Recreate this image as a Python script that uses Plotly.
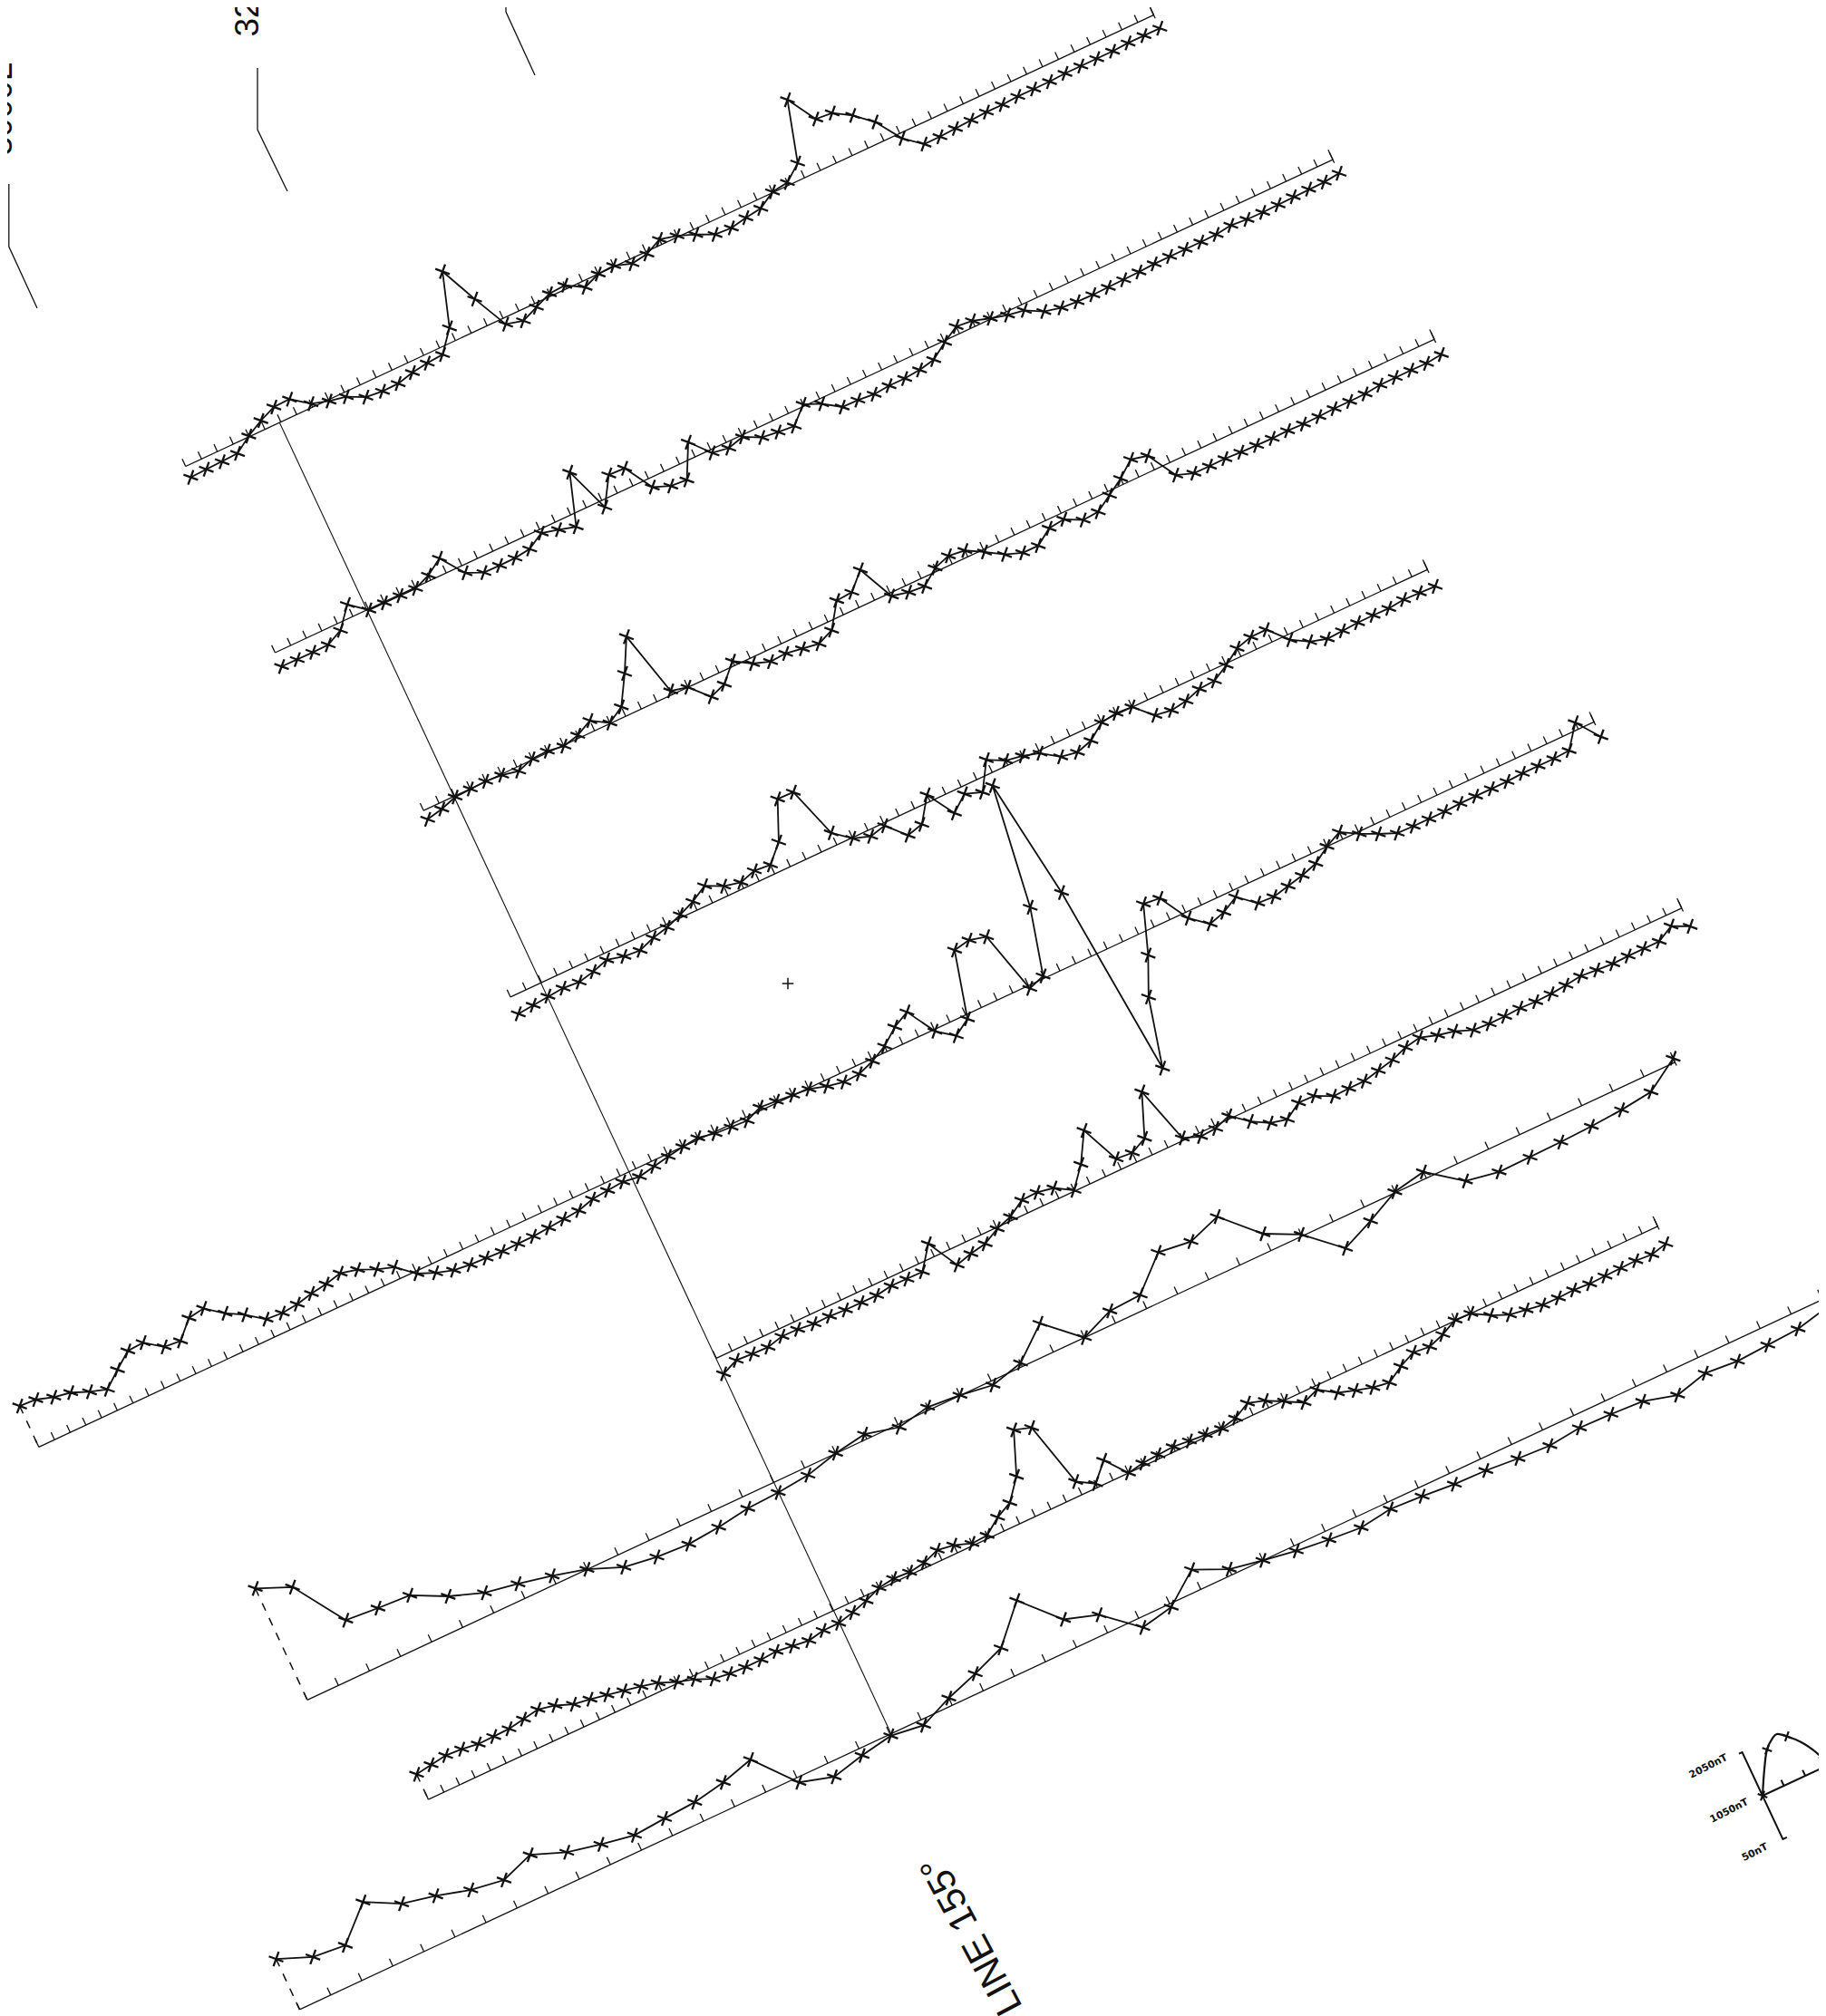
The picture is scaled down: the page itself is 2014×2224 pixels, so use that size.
import math
import plotly.graph_objects as go

# ---------------------------------------------------------------------------
# DATA: anomaly deflection at each station (plot units, + = above base line)
# ---------------------------------------------------------------------------
profile_1 = [-13.3, -12.5, -12.4, -11.2, 0.9, 10.7, 18.2, 18.8, 4.2, -1.6, -5.2, -14.8, -16.7, -16.3,
             -11.9, -9.4, -7.9, 15.5, 75.1, 32.6, -7.0, -11.9, -4.3, 3.1, 4.3, -7.2, 0.0, 1.2, -5.4,
             -2.7, 6.0, 1.5, -6.0, -14.9, -16.0, -12.5, -10.1, 0.9, 3.3, 18.0, 86.0, 53.6, 52, 40, 23,
             -6, -22, -22, -21, -20, -19, -19, -18, -18, -18, -17, -17, -17, -17, -16, -16, -16]
profile_2 = [-16.8, -17.2, -17.2, -16.9, -8.1, 14.5, -1.0, -1.1, -1.2, -1.2, 5.9, 17.8, -8.6, -17.2,
             -17.4, -17.2, -15.0, -4.4, -9.1, -14.5, 43.1, -8.1, 22.2, 21.5, -10.2, -17.8, -19.2, 17.9,
             -3.9, -6.9, -2.1, -11.7, -13.8, -15.5, 2.2, -5.8, -18.7, -19.1, -20.8, -19.2, -19.3, -17.7,
             -14.0, -1.8, 8.7, 6.8, 0.9, -3.8, -6.9, -17.2, -21.5, -22.9, -23.3, -23.1, -22.7, -22.0,
             -21.0, -20.7, -20.9, -20.9, -20.5, -18.2, -19.8, -20.1, -19.7, -18.7, -18.3, -18.5, -16.6]
profile_3 = [-10.7, -7.0, -1.2, -0.2, 0.3, -1.0, -4.9, 1.1, 1.7, -1.0, 3.4, 12.4, 0.7, 11.5, 43.4, 79.3,
             4.4, 0.0, -20.4, -13.8, 5.4, -6.4, -12.8, -11.7, -14.9, -17.6, -9.9, 17.4, 18.6, 37.0, -3.6,
             -7.9, -9.4, 4.1, 10.0, 7.7, -3.0, -14.8, -21.6, -21.7, -9.4, -7.2, -17.0, -15.8, -4.5, 7.0,
             21.4, 17.1, -15.2, -21.8, -22.0, -21.7, -22.7, -23.2, -23.5, -23.0, -23.7, -23.4, -22.6,
             -22.6, -22.3, -20.4, -19.9, -20.0, -20.4, -18.4]
profile_4 = [-20.4, -18.8, -16.6, -15.6, -17.0, -13.2, -7.7, -12.2, -13.8, -7.3, -3.4, 3.1, 10.5, 20.8,
             11.5, 7.2, 12.6, 11.0, 30.0, 73.5, 73.0, 14.7, -0.9, -7.2, -3.1, -23.6, -19.0, 7.9, -23.0,
             -8.4, -15.3, 15.5, 5.6, 2.6, -3.0, -16.3, -19.6, -14.2, -1.1, 1.5, 0.4, -18.7, -21.5, -18.9,
             -13.0, -12.0, -2.0, 10.0, 14.9, 15.1, -6.0, -17.2, -22.6, -21.6, -20.6, -20.4, -20.8, -18.9,
             -19.5, -20.4]
profile_5 = [49.9, 48.8, 42.9, 39.5, 31.5, 25.7, 40.6, 54.6, 55.7, 41.7, 40.0, 59.0, 61.8, 46.9, 36.1,
             21.9, 20.4, 22.3, 26.4, 29.0, 33.3, 28.8, 20.1, 13.9, -2.9, -10.8, -16.6, -18.8, -19.6,
             -20.5, -20.1, -19.9, -18.5, -16.6, -15.3, -10.2, -8.6, -7.1, -9.7, -6.0, -3.0, 0.0, 2.0,
             -1.8, -2.9, -4.0, 3.5, 1.9, 0.4, -1.1, -6.6, -10.4, -9.4, -2.9, 6.5, 20.9, 30.3, -2.0, -16.5,
             -4.8, 69.9, 73.2, 68.4, -3.4, 2.8, 77.5, 216.8, 77.7, -145.0, -67.4, -25.3, 28.1, 26.0,
             -7.1, -23.0, -17.8, -7.9, -24.4, -25.6, -21.5, -17.4, -11.8, 0.0, 8.6, -2.5, -11.4, -19.5,
             -20.0, -20, -20, -19, -19, -19, -19, -18, -18, -18, -17, 8, -18]
profile_6 = [-19.0, -11.4, -12.5, -13.1, -8.7, -9.1, -11.1, -10.8, -11.9, -11.9, -12.0, -9.2, -9.8, -9.7,
             15.6, -19.0, -14.1, -10.9, -1.5, 4.3, 15.6, 16.3, 12.8, 1.1, 23.8, 56.3, 13.0, 11.4, 20.2,
             67.9, 2.9, -4.1, -3.1, 3.4, -12.2, -23.1, -27.4, -16.0, -16.4, -25.7, -25.1, -25.0, -21.0,
             -17.0, -10.6, -7.3, -13.3, -17.2, -24.8, -25.9, -25.7, -24.6, -25.5, -24.8, -23.1, -20.8,
             -22.3, -23.5, -22.9, -22.6, -22.8, -13.0, -22.2]
profile_7 = [135.7, 119.7, 61.8, 58.8, 56.8, 37.9, 24.5, 17.9, 9.9, 0.2, -14.9, -20.1, -22.1, -19.0,
             -13.8, -12.2, -8.7, 0.3, 5.9, -3.3, 3.5, 0.4, -4.9, 4.4, 35.0, 0.0, 14.8, 16.6, 50.8, 46.4,
             59.0, 20.6, 2.1, -32.4, -16.7, 1.1, 7.7, -21.0, -27.6, -27.4, -26.5, -25.1, -22.7, -18.4, 4.8]
profile_8 = [30.7, 33.5, 35.9, 34.8, 32.2, 32.5, 33.1, 36.0, 39.0, 34.9, 27.5, 24.9, 21.4, 17.4, 14.0,
             9.6, 1.7, -3.8, -12.1, -14.6, -15.5, -15.4, -14.0, -16.3, -18.5, -15.0, -15.0, -10.8, -5.4,
             1.6, 4.0, 2.9, 5.5, 12.1, 9.4, 2.6, 3.6, 16.8, 25.7, 48.9, 96.6, 90.6, 16.2, 4.8, 24.3, 0.1,
             3.3, 4.5, 5.5, 3.7, 2.7, 1.1, 5.0, 14.6, 8.7, -0.9, -11.3, -4.4, -17.1, -23.0, -28.4, -31.2,
             -20.2, -12.1, -14.1, -7.9, 0.8, 0.0, -11.2, -19.3, -22.2, -25.1, -25.2, -24.4, -25.7, -25.1,
             -24.5, -24.1, -25.5, -21.2]
profile_9 = [61.5, 46.3, 42.9, 78.0, 58.2, 50.2, 39.8, 34.2, 47.2, 32.7, 24.7, 18.2, 20.9, 23.1, 29.6,
             39.7, -5.6, -16.6, -8.1, -1.9, -6.7, 8.8, 20.9, 34.6, 74.7, 34, 22, -11, -4, 24, 7, 0, -6,
             -10, -13, -8, -10, -13, -14, -17, -19, -15, -16, -18, -28, -19, -22, -20, -18, -10]

# sample anomaly drawn in the scale key (along-line, across-line)
key_curve_along = [0, 15, 26, 37, 43, 52, 64, 72, 78]
key_curve_across = [0, 27, 44, 53, 55, 48, 35, 22, 8.5]
key_curve_marked = [0, 2, 5, 8]
key_labels = ["2050nT", "1050nT", "50nT"]
line_labels = ["3000L", "3200L"]
tie_label = "LINE 155\u00b0"

profiles = [profile_1, profile_2, profile_3, profile_4, profile_5,
            profile_6, profile_7, profile_8, profile_9]

# ---------------------------------------------------------------------------
# LAYOUT GEOMETRY (page pixels): rotated stacked-profile frame
# ---------------------------------------------------------------------------
W, H = 2014, 2224
PAGE_OFFSET = 8          # browser body margin compensation
THETA = math.radians(25.0)
C, S = math.cos(THETA), math.sin(THETA)
ORIGIN = (309.2, 468.0)

# base line offset across the lines, first and last station along the line
PROFILE_GEOM = [
    dict(base=2, first=-114.3, last=1063.8, lead=False),
    dict(base=-226, first=-111.7, last=1175.4, lead=False),
    dict(base=-453, first=-36.9, last=1193.1, lead=False),
    dict(base=-680, first=-37.0, last=1078.9, lead=False),
    dict(base=-910, first=-718.3, last=1174.4, lead=True),
    dict(base=-1137, first=0.4, last=1175.2, lead=False),
    dict(base=-1288, first=-567.8, last=1096.7, lead=True),
    dict(base=-1444, first=-493.2, last=1002.8, lead=True),
    dict(base=-1594, first=-719.8, last=1133.2, lead=True),
]
TICK_LEN = 9
END_BAR = (-4, 12)
BLACK = "#111111"


def to_screen(u, v, origin=ORIGIN):
    return origin[0] + u * C - v * S, origin[1] - u * S - v * C


fig = go.Figure()

base_x, base_y, tick_x, tick_y, lead_x, lead_y = [], [], [], [], [], []
for vals, g in zip(profiles, PROFILE_GEOM):
    n = len(vals)
    step = (g["last"] - g["first"]) / (n - 1)
    stations = [g["first"] + i * step for i in range(n)]
    for u in (g["first"], g["last"]):
        x, y = to_screen(u, g["base"])
        base_x.append(x)
        base_y.append(y)
    base_x.append(None)
    base_y.append(None)
    for u in stations:
        for dv in (0, TICK_LEN):
            x, y = to_screen(u, g["base"] + dv)
            tick_x.append(x)
            tick_y.append(y)
        tick_x.append(None)
        tick_y.append(None)
    for dv in END_BAR:
        x, y = to_screen(g["last"], g["base"] + dv)
        tick_x.append(x)
        tick_y.append(y)
    tick_x.append(None)
    tick_y.append(None)
    if g["lead"]:
        for v in (g["base"] + vals[0], g["base"]):
            x, y = to_screen(g["first"], v)
            lead_x.append(x)
            lead_y.append(y)
        lead_x.append(None)
        lead_y.append(None)
    pts = [to_screen(u, g["base"] + d) for u, d in zip(stations, vals)]
    fig.add_trace(go.Scatter(
        x=[p[0] for p in pts], y=[p[1] for p in pts], mode="lines+markers",
        line=dict(color=BLACK, width=1.8),
        marker=dict(symbol="x-thin", size=12, angle=-25, color=BLACK,
                    line=dict(color=BLACK, width=2.3)),
        hoverinfo="skip"))

fig.add_trace(go.Scatter(x=base_x, y=base_y, mode="lines",
                         line=dict(color=BLACK, width=1.3), hoverinfo="skip"))
fig.add_trace(go.Scatter(x=tick_x, y=tick_y, mode="lines",
                         line=dict(color=BLACK, width=1.3), hoverinfo="skip"))
fig.add_trace(go.Scatter(x=lead_x, y=lead_y, mode="lines",
                         line=dict(color=BLACK, width=1.5, dash="dash"), hoverinfo="skip"))

# tie line across all profiles
tx, ty = zip(to_screen(0, PROFILE_GEOM[0]["base"]), to_screen(0, PROFILE_GEOM[-1]["base"]))
fig.add_trace(go.Scatter(x=list(tx), y=list(ty), mode="lines",
                         line=dict(color=BLACK, width=1.1), hoverinfo="skip"))

# line-label leaders at the top
LEADERS = [[(9.8, 203), (9.8, 272), (41, 340)],
           [(284, 75), (284, 143), (317, 211)],
           [(558, 0), (558, 13), (590, 83)]]
lx, ly = [], []
for path in LEADERS:
    for p in path:
        lx.append(p[0])
        ly.append(p[1])
    lx.append(None)
    ly.append(None)
fig.add_trace(go.Scatter(x=lx, y=ly, mode="lines", line=dict(color=BLACK, width=1.3),
                         hoverinfo="skip"))

# stray plotter mark
fig.add_trace(go.Scatter(x=[869], y=[1085], mode="markers",
                         marker=dict(symbol="cross-thin", size=9,
                                     line=dict(color=BLACK, width=1.5)),
                         hoverinfo="skip"))

# scale key (bottom right)
KEY_ORIGIN = (1944, 1981)
KEY_HALF = 53
KEY_TICKS = [26, 52]
kx, ky = [], []
for seg in ([(-4, KEY_HALF), (0, KEY_HALF), (0, -KEY_HALF), (5, -KEY_HALF)],
            [(0, 0), (90, 0)]):
    for u, v in seg:
        x, y = to_screen(u, v, KEY_ORIGIN)
        kx.append(x)
        ky.append(y)
    kx.append(None)
    ky.append(None)
for u in KEY_TICKS:
    for v in (0, 7):
        x, y = to_screen(u, v, KEY_ORIGIN)
        kx.append(x)
        ky.append(y)
    kx.append(None)
    ky.append(None)
fig.add_trace(go.Scatter(x=kx, y=ky, mode="lines", line=dict(color=BLACK, width=2),
                         hoverinfo="skip"))
cpts = [to_screen(u, v, KEY_ORIGIN) for u, v in zip(key_curve_along, key_curve_across)]
fig.add_trace(go.Scatter(x=[p[0] for p in cpts], y=[p[1] for p in cpts], mode="lines",
                         line=dict(color=BLACK, width=2.2, shape="spline"), hoverinfo="skip"))
fig.add_trace(go.Scatter(x=[cpts[i][0] for i in key_curve_marked],
                         y=[cpts[i][1] for i in key_curve_marked], mode="markers",
                         marker=dict(symbol="x-thin", size=8, angle=-25,
                                     line=dict(color=BLACK, width=2.2)),
                         hoverinfo="skip"))

annotations = []
for txt, pos in zip(key_labels, [(1884, 1948), (1907, 1997), (1935, 2043)]):
    annotations.append(dict(x=pos[0], y=pos[1], text="<b>" + txt + "</b>", showarrow=False,
                            textangle=-27, font=dict(size=11, color=BLACK,
                                                     family="DejaVu Sans")))
# line labels (anchored inside the axis range, shifted to the page edge)
for txt, pos in zip(line_labels, [(0, 174), (272, 43)]):
    ax = max(pos[0], PAGE_OFFSET + 2)
    annotations.append(dict(x=ax, y=pos[1], xshift=pos[0] - ax, text=txt, showarrow=False,
                            textangle=-90, xanchor="center", yanchor="bottom",
                            font=dict(size=37, color=BLACK, family="Liberation Sans")))
annotations.append(dict(x=1070, y=2136, text=tie_label, showarrow=False, textangle=-118,
                        font=dict(size=42, color=BLACK, family="Liberation Sans")))

fig.update_layout(
    width=W, height=H, margin=dict(l=0, r=0, t=0, b=0),
    paper_bgcolor="white", plot_bgcolor="white", showlegend=False,
    xaxis=dict(range=[PAGE_OFFSET, W + PAGE_OFFSET], visible=False, fixedrange=True),
    yaxis=dict(range=[H + PAGE_OFFSET, PAGE_OFFSET], visible=False, fixedrange=True),
    annotations=annotations,
)

fig.write_html("out.html", config={"displayModeBar": False})
